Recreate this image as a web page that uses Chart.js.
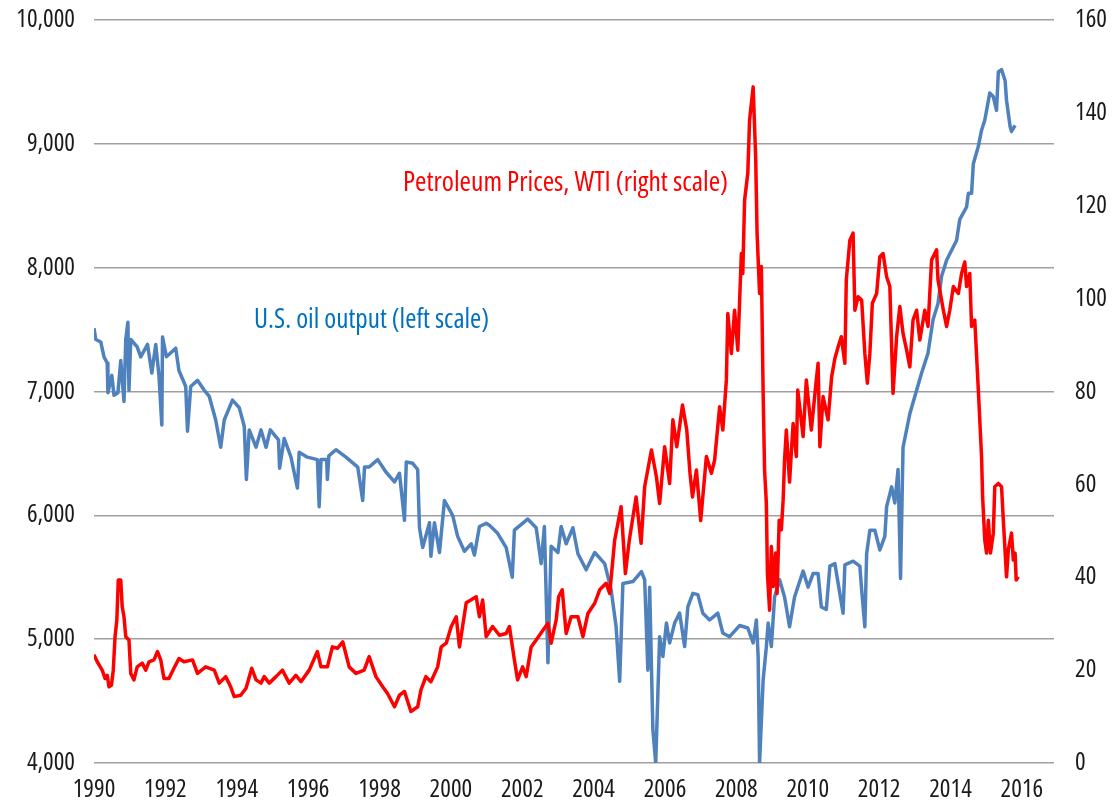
<!DOCTYPE html>
<html>
<head>
<meta charset="utf-8">
<title>U.S. oil output vs WTI</title>
<script src="https://cdn.jsdelivr.net/npm/chart.js@4.4.1/dist/chart.umd.min.js"></script>
<style>
  html, body { margin: 0; padding: 0; background: #fff; }
  #wrap { width: 1114px; height: 805px; position: relative; }
</style>
</head>
<body>
<div id="wrap"><canvas id="chart"></canvas></div>
<script>
// ─── DATA ───────────────────────────────────────────────────────
// U.S. oil output, thousand b/d (left scale)
const outputYears = [
  1990.00, 1990.05, 1990.19, 1990.28, 1990.37, 1990.39, 1990.50, 1990.56, 1990.67, 1990.75,
  1990.84, 1990.89, 1990.95, 1990.98, 1991.03, 1991.21, 1991.31, 1991.50, 1991.62, 1991.73,
  1991.82, 1991.90, 1991.92, 1992.03, 1992.29, 1992.38, 1992.57, 1992.62, 1992.71, 1992.90,
  1993.09, 1993.23, 1993.41, 1993.55, 1993.65, 1993.88, 1994.07, 1994.21, 1994.27, 1994.35,
  1994.54, 1994.68, 1994.82, 1994.94, 1995.17, 1995.20, 1995.33, 1995.52, 1995.70, 1995.75,
  1995.98, 1996.26, 1996.31, 1996.36, 1996.52, 1996.54, 1996.58, 1996.78, 1997.06, 1997.39,
  1997.53, 1997.58, 1997.71, 1997.95, 1998.18, 1998.42, 1998.56, 1998.70, 1998.75, 1998.93,
  1999.07, 1999.12, 1999.21, 1999.40, 1999.44, 1999.54, 1999.68, 1999.82, 2000.05, 2000.19,
  2000.38, 2000.57, 2000.66, 2000.80, 2000.99, 2001.08, 2001.31, 2001.55, 2001.72, 2001.78,
  2002.15, 2002.39, 2002.53, 2002.62, 2002.72, 2002.81, 2003.00, 2003.09, 2003.23, 2003.42,
  2003.56, 2003.79, 2004.03, 2004.31, 2004.49, 2004.63, 2004.73, 2004.82, 2005.10, 2005.34,
  2005.43, 2005.52, 2005.57, 2005.66, 2005.74, 2005.80, 2005.85, 2005.94, 2006.04, 2006.13,
  2006.27, 2006.41, 2006.55, 2006.64, 2006.78, 2006.92, 2007.06, 2007.25, 2007.48, 2007.62,
  2007.81, 2008.09, 2008.32, 2008.47, 2008.56, 2008.61, 2008.65, 2008.75, 2008.84, 2008.89,
  2008.98, 2009.07, 2009.21, 2009.35, 2009.49, 2009.63, 2009.87, 2010.01, 2010.15, 2010.29,
  2010.38, 2010.52, 2010.62, 2010.76, 2010.99, 2011.04, 2011.27, 2011.46, 2011.51, 2011.60,
  2011.65, 2011.74, 2011.88, 2012.02, 2012.16, 2012.21, 2012.35, 2012.44, 2012.53, 2012.60,
  2012.67, 2012.86, 2013.05, 2013.19, 2013.37, 2013.51, 2013.65, 2013.75, 2013.89, 2014.03,
  2014.17, 2014.26, 2014.45, 2014.50, 2014.59, 2014.64, 2014.78, 2014.87, 2014.96, 2015.10,
  2015.20, 2015.29, 2015.34, 2015.43, 2015.53, 2015.57, 2015.67, 2015.71, 2015.81
];
const outputValues = [
  7510, 7420, 7400, 7280, 7230, 6990, 7130, 6970, 6990, 7250,
  6920, 7420, 7560, 7010, 7420, 7360, 7280, 7380, 7150, 7380,
  7130, 6730, 7440, 7280, 7350, 7170, 7040, 6680, 7040, 7090,
  7010, 6960, 6770, 6550, 6770, 6930, 6870, 6720, 6290, 6690,
  6550, 6690, 6550, 6690, 6610, 6380, 6620, 6470, 6220, 6510,
  6470, 6450, 6070, 6450, 6450, 6290, 6480, 6530, 6470, 6390,
  6120, 6390, 6390, 6450, 6350, 6270, 6340, 5960, 6430, 6420,
  6370, 5900, 5740, 5940, 5670, 5940, 5700, 6120, 6000, 5830,
  5710, 5770, 5680, 5910, 5935, 5920, 5855, 5740, 5500, 5880,
  5970, 5900, 5610, 5910, 4810, 5750, 5700, 5910, 5770, 5900,
  5690, 5560, 5700, 5610, 5400, 5100, 4660, 5450, 5465, 5545,
  5480, 4750, 5420, 4270, 4000, 4560, 5020, 4860, 5130, 4970,
  5130, 5210, 4940, 5260, 5370, 5360, 5210, 5155, 5210, 5050,
  5020, 5110, 5090, 4970, 5155, 4860, 4000, 4670, 4940, 5130,
  4940, 5340, 5480, 5340, 5100, 5340, 5550, 5420, 5530, 5530,
  5260, 5240, 5590, 5610, 5210, 5600, 5630, 5590, 5400, 5100,
  5690, 5880, 5880, 5720, 5830, 6070, 6230, 6100, 6370, 5490,
  6550, 6820, 7010, 7150, 7310, 7580, 7710, 7930, 8060, 8140,
  8220, 8390, 8490, 8600, 8600, 8840, 8980, 9110, 9190, 9410,
  9380, 9270, 9580, 9600, 9510, 9350, 9140, 9100, 9150
];

// WTI crude, $/bbl (right scale)
const wtiYears = [
  1990.00, 1990.09, 1990.23, 1990.31, 1990.37, 1990.42, 1990.49, 1990.54, 1990.59, 1990.64,
  1990.68, 1990.75, 1990.79, 1990.84, 1990.89, 1990.98, 1991.03, 1991.12, 1991.21, 1991.35,
  1991.45, 1991.54, 1991.68, 1991.78, 1991.87, 1991.96, 1992.10, 1992.24, 1992.38, 1992.52,
  1992.76, 1992.90, 1993.13, 1993.37, 1993.51, 1993.69, 1993.83, 1993.93, 1994.11, 1994.26,
  1994.42, 1994.54, 1994.68, 1994.77, 1994.91, 1995.10, 1995.28, 1995.47, 1995.66, 1995.80,
  1996.03, 1996.26, 1996.36, 1996.54, 1996.68, 1996.82, 1996.97, 1997.15, 1997.34, 1997.57,
  1997.71, 1997.90, 1998.09, 1998.23, 1998.42, 1998.56, 1998.70, 1998.88, 1999.07, 1999.16,
  1999.30, 1999.44, 1999.63, 1999.73, 1999.87, 2000.01, 2000.15, 2000.24, 2000.43, 2000.71,
  2000.80, 2000.89, 2000.99, 2001.17, 2001.36, 2001.55, 2001.64, 2001.78, 2001.87, 2002.01,
  2002.11, 2002.25, 2002.39, 2002.58, 2002.72, 2002.81, 2002.95, 2003.02, 2003.12, 2003.23,
  2003.37, 2003.56, 2003.70, 2003.84, 2004.03, 2004.17, 2004.35, 2004.45, 2004.59, 2004.77,
  2004.89, 2005.00, 2005.19, 2005.33, 2005.43, 2005.62, 2005.76, 2005.85, 2005.99, 2006.13,
  2006.22, 2006.33, 2006.49, 2006.61, 2006.70, 2006.77, 2006.88, 2007.00, 2007.16, 2007.30,
  2007.39, 2007.53, 2007.62, 2007.72, 2007.76, 2007.86, 2007.95, 2008.04, 2008.14, 2008.18,
  2008.23, 2008.32, 2008.37, 2008.47, 2008.54, 2008.58, 2008.65, 2008.70, 2008.75, 2008.79,
  2008.84, 2008.87, 2008.93, 2008.98, 2009.03, 2009.10, 2009.14, 2009.20, 2009.26, 2009.31,
  2009.35, 2009.40, 2009.49, 2009.59, 2009.68, 2009.72, 2009.87, 2009.96, 2010.10, 2010.24,
  2010.29, 2010.34, 2010.43, 2010.57, 2010.67, 2010.76, 2010.85, 2010.94, 2011.04, 2011.08,
  2011.18, 2011.27, 2011.32, 2011.41, 2011.51, 2011.60, 2011.67, 2011.74, 2011.81, 2011.93,
  2012.02, 2012.11, 2012.21, 2012.30, 2012.39, 2012.49, 2012.58, 2012.67, 2012.77, 2012.86,
  2012.95, 2013.05, 2013.14, 2013.28, 2013.37, 2013.47, 2013.61, 2013.65, 2013.80, 2013.89,
  2013.98, 2014.08, 2014.22, 2014.31, 2014.40, 2014.45, 2014.54, 2014.59, 2014.68, 2014.78,
  2014.87, 2014.90, 2014.96, 2015.01, 2015.06, 2015.12, 2015.20, 2015.24, 2015.34, 2015.43,
  2015.48, 2015.57, 2015.62, 2015.71, 2015.76, 2015.81, 2015.84, 2015.90
];
const wtiValues = [
  23.3, 21.8, 20.0, 18.2, 18.9, 16.4, 16.8, 20.0, 27.2, 30.8,
  39.4, 39.4, 33.7, 31.5, 27.2, 26.5, 19.3, 17.9, 20.7, 21.5,
  20.0, 21.8, 22.2, 24.0, 22.2, 18.2, 18.2, 20.4, 22.5, 21.8,
  22.2, 19.3, 20.7, 20.0, 17.2, 18.6, 16.4, 14.3, 14.6, 16.1,
  20.4, 17.9, 17.2, 18.6, 17.2, 18.6, 20.0, 17.2, 18.9, 17.5,
  20.0, 24.0, 20.7, 20.7, 25.0, 24.7, 26.1, 20.7, 19.3, 20.0,
  22.9, 18.6, 16.4, 14.9, 12.1, 14.6, 15.4, 11.1, 12.1, 15.7,
  18.6, 17.5, 20.7, 25.0, 25.8, 29.4, 31.5, 25.0, 34.5, 35.8,
  31.5, 35.1, 27.2, 29.4, 27.5, 27.9, 29.4, 22.2, 17.9, 20.7,
  18.6, 25.0, 26.5, 28.6, 30.1, 25.8, 30.8, 35.8, 37.3, 27.9,
  31.5, 31.5, 27.2, 32.2, 34.4, 37.3, 38.7, 36.5, 48.0, 55.2,
  40.8, 48.0, 57.3, 47.3, 59.5, 67.4, 61.6, 55.9, 68.1, 60.2,
  73.9, 68.1, 77.1, 71.7, 62.4, 57.3, 63.1, 52.2, 66.0, 62.4,
  65.2, 76.7, 71.7, 82.5, 96.8, 88.2, 97.5, 88.9, 109.7, 105.4,
  121.2, 127.0, 138.5, 145.6, 130.6, 114.1, 101.1, 106.9, 79.6, 63.1,
  55.9, 40.8, 32.9, 46.6, 38.0, 45.2, 36.5, 52.3, 50.2, 56.6,
  65.2, 71.7, 60.5, 73.1, 66.0, 80.3, 70.3, 82.5, 71.7, 82.5,
  86.1, 68.1, 78.9, 73.9, 83.2, 87.1, 89.6, 91.8, 86.1, 104.0,
  112.6, 114.1, 97.5, 100.4, 99.7, 88.2, 81.8, 88.2, 99.0, 101.1,
  109.0, 109.7, 104.7, 102.6, 79.6, 91.8, 98.3, 92.5, 88.9, 85.3,
  95.4, 97.5, 91.1, 97.5, 94.0, 108.3, 110.5, 104.0, 97.5, 94.0,
  97.5, 102.6, 101.1, 105.4, 107.9, 102.6, 105.4, 94.0, 95.4, 80.3,
  66.0, 57.3, 48.0, 45.2, 52.3, 45.2, 49.5, 59.5, 60.2, 59.5,
  52.3, 40.1, 45.9, 49.5, 43.7, 45.2, 39.4, 40.1
];

const xTickYears = [1990, 1992, 1994, 1996, 1998, 2000, 2002, 2004, 2006, 2008, 2010, 2012, 2014, 2016];

// ─── STYLE ──────────────────────────────────────────────────────
// Open Sans has a condensed face here; it stands in for Arial Narrow.
const FONT = "'Open Sans', 'Liberation Sans', sans-serif";
const STRETCH = 'condensed';
const TEXT = '#1a1a1a';
const BLUE = '#4F81BD';
const RED = '#FF0000';

const toPoints = (xs, ys) => xs.map((x, i) => ({ x, y: ys[i] }));
const tickFont = { family: FONT, size: 25, weight: STRETCH };

// y axes: fixed width, and don't let tick padding push the plot top down
const fitY = (width) => (s) => {
  s.width = width;
  s.paddingTop = 15;
  s.paddingBottom = 15;
};

// in-plot series captions, sized to the reference's text width
function drawCaption(ctx, text, x, y, width, color) {
  ctx.font = STRETCH + ' 100px ' + FONT;
  const size = 100 * width / ctx.measureText(text).width;
  ctx.font = STRETCH + ' ' + size.toFixed(1) + 'px ' + FONT;
  ctx.fillStyle = color;
  ctx.fillText(text, x, y);
}

const seriesLabels = {
  id: 'seriesLabels',
  afterDatasetsDraw(chart) {
    const ctx = chart.ctx;
    ctx.save();
    ctx.textBaseline = 'middle';
    ctx.textAlign = 'left';
    drawCaption(ctx, 'Petroleum Prices, WTI (right scale)', 403, 183, 325, RED);
    drawCaption(ctx, 'U.S. oil output (left scale)', 254, 320, 235, '#0070C0');
    ctx.restore();
  },
};

new Chart(document.getElementById('chart'), {
  type: 'line',
  data: {
    datasets: [
      {
        label: 'Petroleum Prices, WTI (right scale)',
        data: toPoints(wtiYears, wtiValues),
        yAxisID: 'yR',
        borderColor: RED,
        borderWidth: 3.5,
        borderJoinStyle: 'round',
        pointRadius: 0,
        tension: 0,
        order: 0,
      },
      {
        label: 'U.S. oil output (left scale)',
        data: toPoints(outputYears, outputValues),
        yAxisID: 'yL',
        borderColor: BLUE,
        borderWidth: 3.5,
        borderJoinStyle: 'round',
        pointRadius: 0,
        tension: 0,
        order: 1,
      },
    ],
  },
  options: {
    responsive: true,
    maintainAspectRatio: false,
    animation: false,
    layout: { padding: { top: 20, left: 0, right: 0, bottom: 0 } },
    plugins: { legend: { display: false }, tooltip: { enabled: false } },
    scales: {
      x: {
        type: 'linear',
        min: 1990,
        max: 2016.9,
        grid: { display: false, drawTicks: false },
        border: { display: false },
        afterBuildTicks: (s) => { s.ticks = xTickYears.map((v) => ({ value: v })); },
        afterFit: (s) => { s.height = 42; },
        ticks: {
          color: TEXT,
          font: tickFont,
          padding: 12,
          maxRotation: 0,
          callback: (v) => String(v),
        },
      },
      yL: {
        position: 'left',
        min: 4000,
        max: 10000,
        grid: { color: '#9f9f9f', lineWidth: 1.5, drawTicks: false },
        border: { display: false },
        afterFit: fitY(94),
        ticks: {
          stepSize: 1000,
          color: TEXT,
          font: tickFont,
          padding: 19,
          callback: (v) => v.toLocaleString('en-US'),
        },
      },
      yR: {
        position: 'right',
        min: 0,
        max: 160,
        grid: { display: false, drawTicks: false },
        border: { display: false },
        afterFit: fitY(60),
        ticks: {
          stepSize: 20,
          color: TEXT,
          font: tickFont,
          padding: 21,
        },
      },
    },
  },
  plugins: [seriesLabels],
});
</script>
</body>
</html>
